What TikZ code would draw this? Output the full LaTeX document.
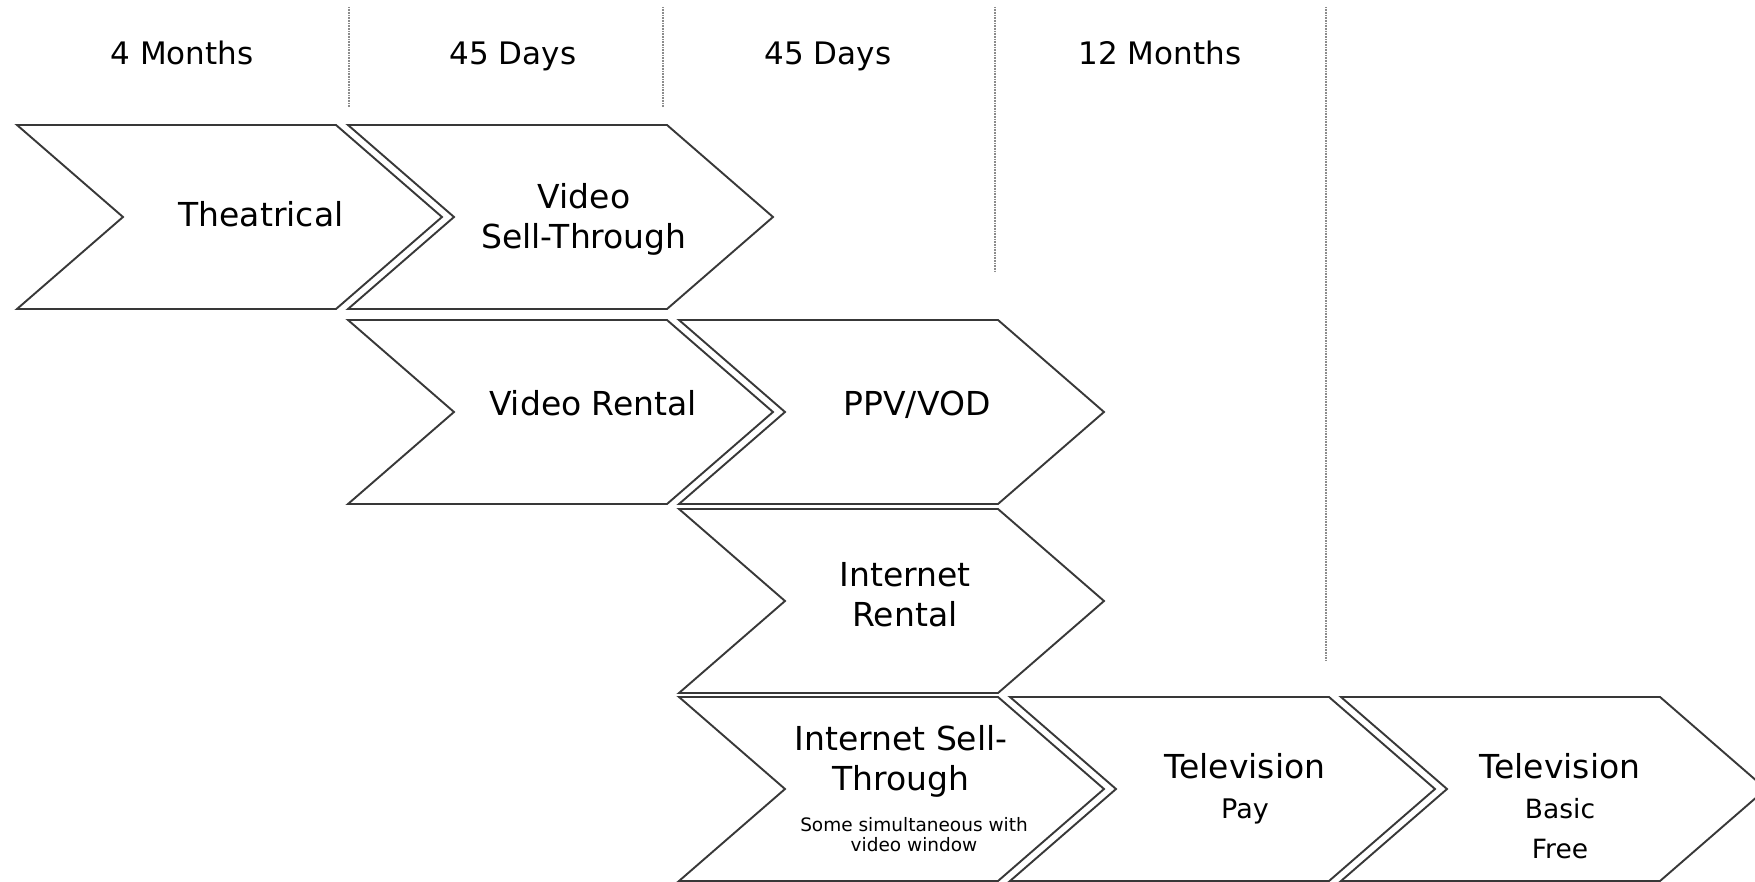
\documentclass[tikz,border=0pt]{standalone}
\usepackage{fontspec}
\setmainfont{DejaVu Sans}
\usepackage{tikz}

\newcommand{\subsize}{\fontsize{26.5}{37}\selectfont}

\begin{document}
\begin{tikzpicture}[
        x=1pt, y=-1pt,
        chevron/.style={
            draw=black!78,
            line width=1.9pt,
            fill=white
        },
        period/.style={draw=black!45, line width=1.3pt, dash pattern=on 1pt off 0.6pt},
        header/.style={font=\fontsize{31}{37}\selectfont, anchor=base, inner sep=0pt},
        label/.style={font=\fontsize{33}{40}\selectfont, align=center, inner sep=0pt},
        note/.style={font=\fontsize{18.5}{20}\selectfont, align=center, inner sep=0pt}
    ]

    \useasboundingbox (0,0) rectangle (1755,882);
    \fill[white] (0,0) rectangle (1755,882);

    % release windows
    \node[header] (months4) at (182,65) {4 Months};
    \node[header] (days45a) at (513,65) {45 Days};
    \node[header] (days45b) at (828,65) {45 Days};
    \node[header] (months12) at (1160,65) {12 Months};

    \draw[period] (349,7) -- (349,107);
    \draw[period] (663,7) -- (663,107);
    \draw[period] (995,7) -- (995,272);
    \draw[period] (1326,7) -- (1326,660);

    % chevrons (left x / top y)
    \foreach \x/\y in {17/125, 348/125, 348/320, 679/320, 679/509, 679/697, 1010/697, 1341/697}
        \draw[chevron] (\x,\y) -- ++(319,0) -- ++(106,92) -- ++(-106,92)
            -- ++(-319,0) -- ++(106,-92) -- cycle;

    \node[label] (theatrical) at (261,214.5) {Theatrical};
    \node[label] (videosell) at (584,219.5) {Video\\Sell-Through};
    \node[label] (videorent) at (593,403.5) {Video Rental};
    \node[label] (ppv) at (917,404.5) {PPV/VOD};
    \node[label] (netrent) at (905,595) {Internet\\Rental};
    \node[label] (netsell) at (901,761) {Internet Sell-\\Through};
    \node[note] (netnote) at (914,835) {Some simultaneous with\\video window};
    \node[label] (tvpay) at (1245,788.5)
        {Television\\\fontsize{27}{40}\selectfont Pay};
    \node[label] (tvfree) at (1560,806.5)
        {Television\\\subsize Basic\\\subsize Free};

    \end{tikzpicture}
\end{document}
